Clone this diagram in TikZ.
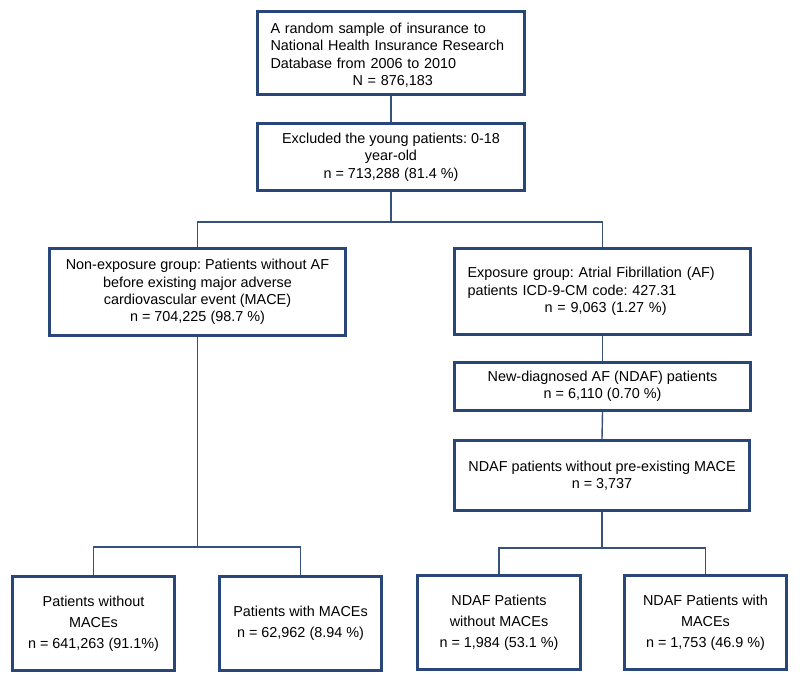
\documentclass[tikz,border=0pt]{standalone}
\usepackage{fontspec}
\setmainfont{Liberation Sans}
\frenchspacing
\definecolor{boxblue}{RGB}{40,70,120}
\definecolor{linkblue}{RGB}{55,82,120}
\begin{document}
\begin{tikzpicture}[x=1pt,y=-1pt,
  box/.style={draw=boxblue, line width=3.2pt, rectangle, inner sep=0pt,
    font=\fontsize{14.4}{17.4}\selectfont, text=black, align=center},
  leftbox/.style={box, align=left, inner xsep=13pt},
  endbox/.style={box, font=\fontsize{14.4}{20.8}\selectfont, minimum height=94pt},
  link/.style={draw=linkblue, line width=1.4pt}]
\useasboundingbox (0,0) rectangle (800,681);
\fill[white] (0,0) rectangle (800,681);
% boxes
\node[leftbox, text width=241pt, minimum height=83pt] (b1) at (391,53)
  {\rule{0pt}{15pt}A random sample of insurance to\\National Health Insurance Research\\Database from 2006 to 2010\\\hspace*{82pt}N = 876,183};
\node[box, minimum width=267pt, minimum height=67pt] (b2) at (391,157)
  {Excluded the young patients: 0-18\\year-old\\n = 713,288 (81.4 \%)};
\node[box, minimum width=296pt, minimum height=87pt] (b3) at (197.5,292)
  {Non-exposure group: Patients without AF\\before existing major adverse\\cardiovascular event (MACE)\\n = 704,225 (98.7 \%)};
\node[leftbox, text width=270pt, minimum height=86pt] (b4) at (602.5,291.5)
  {Exposure group: Atrial Fibrillation (AF)\\patients ICD-9-CM code: 427.31\\\hspace*{77pt}n = 9,063 (1.27 \%)};
\node[box, minimum width=296pt, minimum height=48pt] (b5) at (602.5,386.5)
  {New-diagnosed AF (NDAF) patients\\n = 6,110 (0.70 \%)};
\node[box, minimum width=295pt, minimum height=70pt] (b6) at (602,475.5)
  {NDAF patients without pre-existing MACE\\n = 3,737};
\node[endbox, minimum width=162pt] (l1) at (93.5,623.5)
  {Patients without\\MACEs\\n = 641,263 (91.1\%)};
\node[endbox, minimum width=162pt] (l2) at (300.5,623.5)
  {Patients with MACEs\\n = 62,962 (8.94 \%)};
\node[endbox, minimum width=163pt] (r1) at (499,622.5)
  {NDAF Patients\\without MACEs\\n = 1,984 (53.1 \%)};
\node[endbox, minimum width=162pt] (r2) at (705.5,622.5)
  {NDAF Patients with\\MACEs\\n = 1,753 (46.9 \%)};
% split points
\coordinate (s1) at (391,222);
\coordinate (s2) at (197.5,547);
\coordinate (s3) at (602,548);
% connectors
\draw[link] (b1.south) -- (b2.north);
\draw[link] (b2.south) -- (s1);
\draw[link] (b3.north) |- (s1) -| (b4.north);
\draw[link] (b3.south) -- (s2);
\draw[link] (l1.north) |- (s2) -| (l2.north);
\draw[link] (b4.south) -- (b5.north);
\draw[link] (b5.south) -- (b6.north);
\draw[link] (b6.south) -- (s3);
\draw[link] (r1.north) |- (s3) -| (r2.north);
\end{tikzpicture}
\end{document}
